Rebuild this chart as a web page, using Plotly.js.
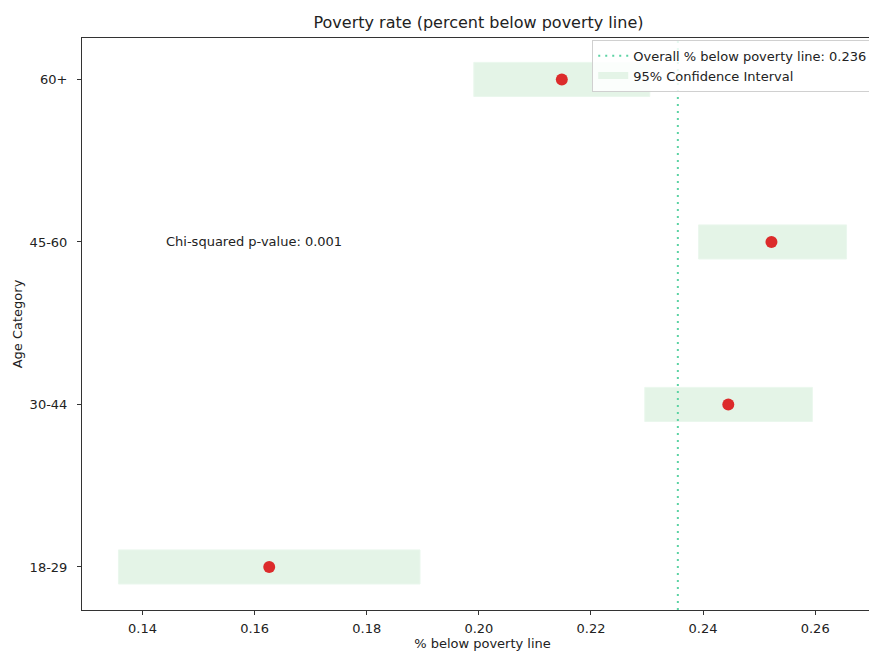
<!DOCTYPE html>
<html>
<head>
<meta charset="utf-8">
<script src="https://cdn.plot.ly/plotly-3.0.1.min.js"></script>
<style>
html,body{margin:0;padding:0;overflow:hidden;background:#fff;}
#chart{width:890px;height:651px;}
</style>
</head>
<body>
<div id="chart"></div>
<script>
// Data
const categories = ["18-29", "30-44", "45-60", "60+"];
const povertyRate = [0.1626, 0.2445, 0.2522, 0.2148];
const ciLower = [0.1357, 0.2296, 0.2392, 0.1991];
const ciUpper = [0.1895, 0.2595, 0.2656, 0.2305];
const overallRate = 0.2355;
const overallLabel = "Overall % below poverty line: 0.236";
const pValueText = "Chi-squared p-value: 0.001";
const xTicks = [0.14, 0.16, 0.18, 0.20, 0.22, 0.24, 0.26];

const catIdx = categories.map((c, i) => i);
const xRange = [0.1292, 0.2721];
const yRange = [-0.265, 3.255];
const font = "DejaVu Sans, sans-serif";
const ciColor = "#e4f4e7";
const lineColor = "#5cd3a4";

const traces = [
  {
    type: "bar", orientation: "h",
    y: catIdx,
    base: ciLower,
    x: ciUpper.map((u, i) => u - ciLower[i]),
    width: 0.21,
    marker: {color: ciColor, line: {color: "#eaf7ed", width: 1}},
    showlegend: false, hoverinfo: "skip"
  },
  {
    type: "scatter", mode: "lines",
    x: [overallRate, overallRate], y: yRange,
    line: {color: lineColor, width: 2, dash: "2px,5px"},
    name: overallLabel
  },
  {
    type: "scatter", mode: "lines",
    x: [null], y: [null],
    line: {color: ciColor, width: 7},
    name: "95% Confidence Interval"
  },
  {
    type: "scatter", mode: "markers",
    x: povertyRate, y: catIdx,
    marker: {color: "#dc2b2b", size: 12},
    showlegend: false
  }
];

const layout = {
  width: 890, height: 651,
  margin: {l: 82, r: 7, t: 38, b: 41},
  paper_bgcolor: "#fff", plot_bgcolor: "#fff",
  font: {family: font, size: 13, color: "#222"},
  title: {text: "Poverty rate (percent below poverty line)", font: {family: font, size: 16, color: "#222"},
          xref: "paper", x: 0.495, xanchor: "center", y: 0.966, yanchor: "middle"},
  barmode: "overlay",
  showlegend: true,
  legend: {
    x: 0.637, y: 0.997, xanchor: "left", yanchor: "top",
    bgcolor: "rgba(255,255,255,0.85)", bordercolor: "#d0d0d0", borderwidth: 1,
    font: {family: font, size: 13, color: "#222"},
    tracegroupgap: 0, itemwidth: 30
  },
  xaxis: {
    range: xRange, tickvals: xTicks, ticktext: xTicks.map(v => v.toFixed(2)),
    showgrid: false, zeroline: false,
    showline: true, mirror: true, linecolor: "#333", linewidth: 1,
    ticks: "outside", ticklen: 4, tickcolor: "#333", ticklabelstandoff: 2,
    tickfont: {family: font, size: 13, color: "#222"},
    title: {text: "% below poverty line", font: {family: font, size: 13, color: "#222"}, standoff: 4}
  },
  yaxis: {
    range: yRange, tickvals: catIdx, ticktext: categories,
    showgrid: false, zeroline: false,
    showline: true, mirror: true, linecolor: "#333", linewidth: 1,
    ticks: "outside", ticklen: 4, tickcolor: "#333", ticklabelstandoff: 7,
    tickfont: {family: font, size: 13, color: "#222"},
    title: {text: "Age Category", font: {family: font, size: 13, color: "#222"}, standoff: 4}
  },
  annotations: [{
    text: pValueText, xref: "x", yref: "y",
    x: 0.1439, y: catIdx[2], xanchor: "left", yanchor: "middle",
    showarrow: false, font: {family: font, size: 13, color: "#222"}
  }]
};

Plotly.newPlot("chart", traces, layout, {displayModeBar: false, staticPlot: true});
</script>
</body>
</html>
